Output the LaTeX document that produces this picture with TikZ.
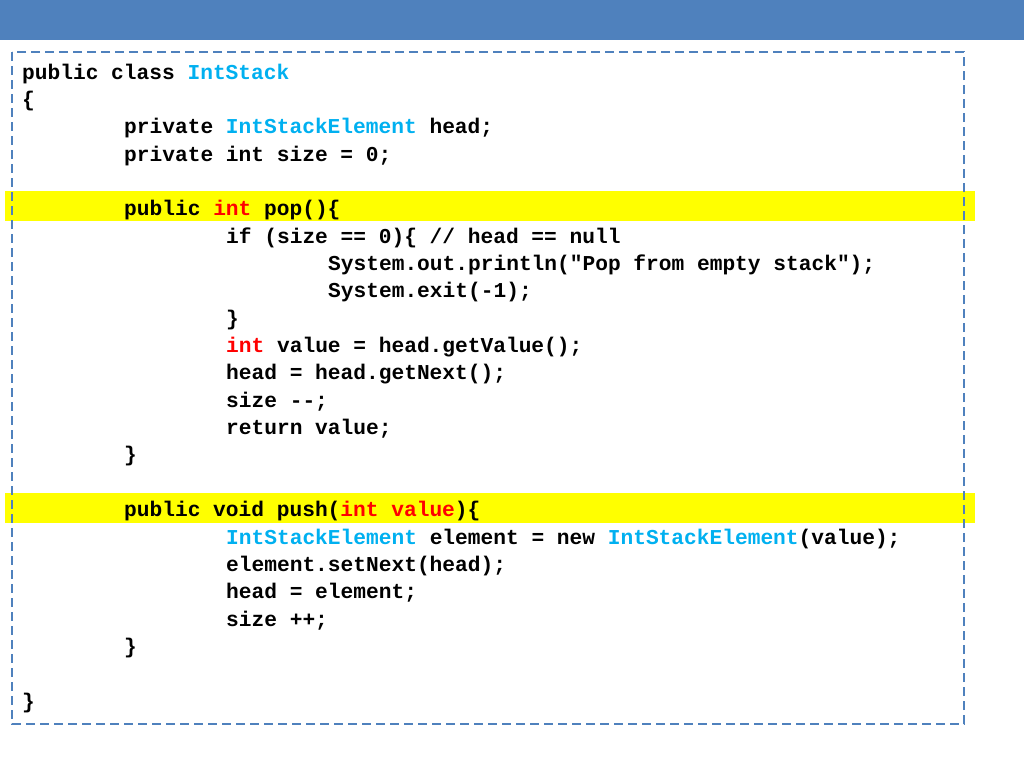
\documentclass[tikz,border=0pt]{standalone}
\usepackage{fontspec}
\newfontfamily\code{Liberation Mono}[BoldFont={Liberation Mono Bold}]
\definecolor{barblue}{HTML}{4F81BD}
\definecolor{kwc}{HTML}{00B0F0}
\definecolor{kwr}{HTML}{FF0000}
\definecolor{hl}{HTML}{FFFF00}
\newcommand{\cy}[1]{\textcolor{kwc}{#1}}
\newcommand{\rd}[1]{\textcolor{kwr}{#1}}
\begin{document}
\begin{tikzpicture}[x=1pt,y=-1pt,
  ln/.style={anchor=base west,inner sep=0pt,font=\code\bfseries\fontsize{21.2}{27}\selectfont}]
\useasboundingbox (0,0) rectangle (1024,768);
\fill[barblue] (0,0) rectangle (1024,40);
\fill[hl] (5,191) rectangle (975,221);
\fill[hl] (5,493) rectangle (975,523);
\draw[barblue,line width=2.5pt,dash pattern=on 9pt off 5pt] (12,52) rectangle (964,724);
\def\a{22}\def\b{124}\def\c{226}\def\d{328}
\node[ln] (l1) at (\a,79) {public class \cy{IntStack}};
\node[ln] (l2) at (\a,106.4) {\{};
\node[ln] (l3) at (\b,133.7) {private \cy{IntStackElement} head;};
\node[ln] (l4) at (\b,161.1) {private int size = 0;};
\node[ln] (l6) at (\b,215.8) {public \rd{int} pop()\{};
\node[ln] (l7) at (\c,243.1) {if (size == 0)\{ // head == null};
\node[ln] (l8) at (\d,270.5) {System.out.println("Pop from empty stack");};
\node[ln] (l9) at (\d,297.8) {System.exit(-1);};
\node[ln] (l10) at (\c,325.2) {\}};
\node[ln] (l11) at (\c,352.5) {\rd{int} value = head.getValue();};
\node[ln] (l12) at (\c,379.9) {head = head.getNext();};
\node[ln] (l13) at (\c,407.2) {size --;};
\node[ln] (l14) at (\c,434.6) {return value;};
\node[ln] (l15) at (\b,461.9) {\}};
\node[ln] (l17) at (\b,516.6) {public void push(\rd{int value})\{};
\node[ln] (l18) at (\c,544) {\cy{IntStackElement} element = new \cy{IntStackElement}(value);};
\node[ln] (l19) at (\c,571.3) {element.setNext(head);};
\node[ln] (l20) at (\c,598.7) {head = element;};
\node[ln] (l21) at (\c,626) {size ++;};
\node[ln] (l22) at (\b,653.4) {\}};
\node[ln] (l24) at (\a,708) {\}};
\end{tikzpicture}
\end{document}
